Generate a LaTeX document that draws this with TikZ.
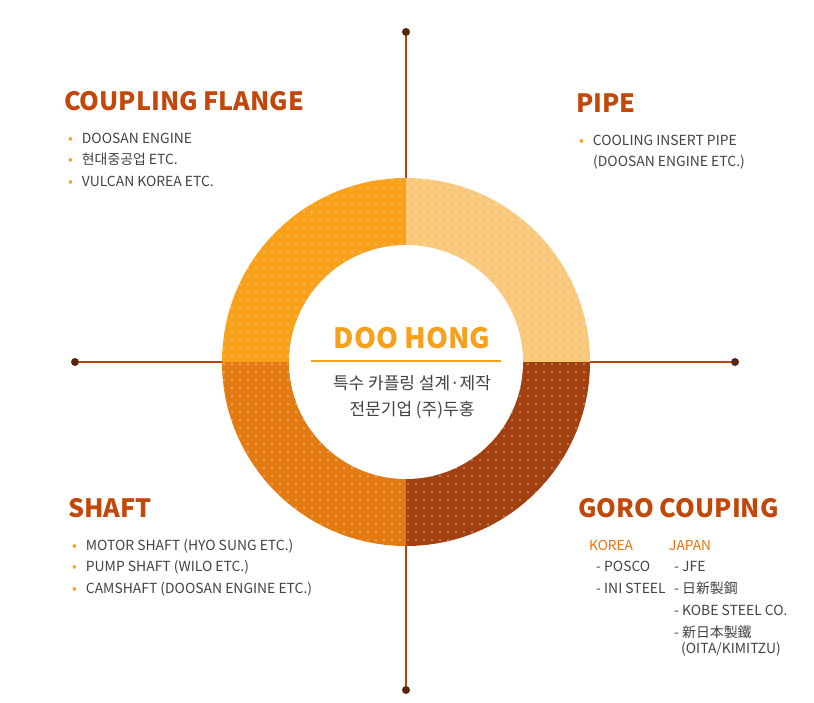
\documentclass[tikz,border=0pt]{standalone}
\usepackage{fontspec}
\setmainfont{Noto Sans CJK KR}
\usetikzlibrary{positioning,calc}
\definecolor{titlered}{RGB}{196,71,10}
\definecolor{axisred}{RGB}{190,66,12}
\definecolor{dotbrown}{RGB}{88,38,14}
\definecolor{bulletorange}{RGB}{247,162,27}
\definecolor{tlorange}{RGB}{249,161,27}
\definecolor{trorange}{RGB}{250,200,122}
\definecolor{blorange}{RGB}{228,122,18}
\definecolor{brbrown}{RGB}{163,64,15}
\definecolor{textgray}{RGB}{66,66,66}
\definecolor{subcolor}{RGB}{232,114,12}
\definecolor{coreorange}{RGB}{247,160,27}
\newcommand{\bul}{\textcolor{bulletorange}{•}\hspace{9pt}}

\begin{document}
\begin{tikzpicture}[
		x=1pt,
		y=-1pt,
		font=\fontsize{13.7}{15}\selectfont,
		enddot/.style={circle, fill=dotbrown, minimum size=8pt, inner sep=0pt},
		axis/.style={draw=axisred, line width=1.8pt},
		core/.style={circle, fill=white, minimum size=234pt, inner sep=0pt},
		dotwhite/.style={fill=white, opacity=0.45},
		title/.style={anchor=base west, inner sep=0pt, text=titlered, font=\bfseries\fontsize{25.2}{30}\selectfont},
		item/.style={anchor=base west, inner sep=0pt, text=textgray, font=\fontsize{13.9}{15}\selectfont},
		subtitle/.style={anchor=base west, inner sep=0pt, text=subcolor, font=\fontsize{13.7}{15}\selectfont},
		coretitle/.style={anchor=base, inner sep=0pt, text=coreorange, font=\bfseries\fontsize{28}{32}\selectfont},
		coretxt/.style={anchor=base, inner sep=0pt, text=textgray, font=\fontsize{17}{19}\selectfont}
	]
	
	\useasboundingbox (0,0) rectangle (814,702);
	
	% Axis end points
	\node[enddot] (top) at (406,32) {};
	\node[enddot] (bottom) at (406,690) {};
	\node[enddot] (left) at (75,362) {};
	\node[enddot] (right) at (735,362) {};
	
	% Axis lines
	\draw[axis] (top) -- (bottom);
	\draw[axis] (left) -- (right);
	
	% Ring quadrants
	\coordinate (c) at (406,362);
	\begin{scope}
		\clip (c) rectangle ++(-190,-190);
		\fill[tlorange] (c) circle (184pt);
	\end{scope}
	\begin{scope}
		\clip (c) rectangle ++(190,-190);
		\fill[trorange] (c) circle (184pt);
	\end{scope}
	\begin{scope}
		\clip (c) rectangle ++(-190,190);
		\fill[blorange] (c) circle (184pt);
	\end{scope}
	\begin{scope}
		\clip (c) rectangle ++(190,190);
		\fill[brbrown] (c) circle (184pt);
	\end{scope}
	
	% Dot pattern
	\begin{scope}
		\clip (c) circle (184pt);
		\foreach \i in {0,...,46}{
			\foreach \j in {0,...,46}{
				\fill[dotwhite] (224+\i*8,180+\j*8) circle (1pt);
			}
		}
	\end{scope}
	
	% Core
	\node[core] (core) at (c) {};
	\node[coretitle] (name) at (412,348) {DOO HONG};
	\draw[coreorange, line width=1.5pt] ($(core.center)+(-95,-1)$) coordinate (ul) -- ($(core.center)+(95,-1)$) coordinate (ur);
	\node[coretxt] (kr1) at (412,389) {특수 카플링 설계·제작};
	\node[coretxt] (kr2) at (412,415) {전문기업 (주)두홍};
	
	% Coupling flange
	\node[title] (flange) at (64,110) {COUPLING FLANGE};
	\node[item] (fl1) at (68,143) {\bul DOOSAN ENGINE};
	\node[item] (fl2) at (68,164) {\bul 현대중공업 ETC.};
	\node[item] (fl3) at (68,186) {\bul VULCAN KOREA ETC.};
	
	% Pipe
	\node[title] (pipe) at (576,112) {PIPE};
	\node[item] (pp1) at (579,145) {\bul COOLING INSERT PIPE};
	\node[item] (pp2) at (593,166) {(DOOSAN ENGINE ETC.)};
	
	% Shaft
	\node[title] (shaft) at (68,517) {SHAFT};
	\node[item] (sh1) at (72,550) {\bul MOTOR SHAFT (HYO SUNG ETC.)};
	\node[item] (sh2) at (72,571) {\bul PUMP SHAFT (WILO ETC.)};
	\node[item] (sh3) at (72,593) {\bul CAMSHAFT (DOOSAN ENGINE ETC.)};
	
	% Goro couping
	\node[title] (goro) at (578,517) {GORO COUPING};
	\node[subtitle] (korea) at (589,550) {KOREA};
	\node[subtitle] (japan) at (669,550) {JAPAN};
	\node[item] (kr1a) at (596,571) {- POSCO};
	\node[item] (kr2a) at (596,593) {- INI STEEL};
	\node[item] (jp1) at (674,571) {- JFE};
	\node[item] (jp2) at (674,593) {- 日新製鋼};
	\node[item] (jp3) at (674,615) {- KOBE STEEL CO.};
	\node[item] (jp4) at (674,637) {- 新日本製鐵};
	\node[item] (jp5) at (681,653) {(OITA/KIMITZU)};
	
\end{tikzpicture}
\end{document}
